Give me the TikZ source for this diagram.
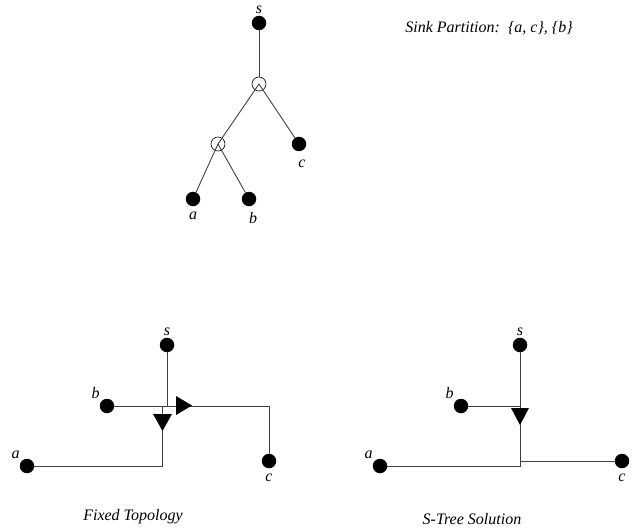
\documentclass[tikz,border=0pt]{standalone}
\usepackage{fontspec}
\setmainfont{Liberation Serif}
\begin{document}
\begin{tikzpicture}[x=1pt,y=-1pt,
    font=\fontsize{16}{18}\selectfont\itshape,
    wire/.style={draw=black!75, line width=0.9pt},
    terminal/.style={circle, fill=black, inner sep=0pt, minimum size=14.5pt},
    steiner/.style={circle, draw=black, line width=0.6pt, inner sep=0pt, minimum size=14pt},
    pin/.style={label distance=-2pt},
    pinlow/.style={label distance=2pt}]
    \useasboundingbox (0,0) rectangle (639,529);

    % Topology tree
    \node[terminal, label={[pin]above:s}] (st) at (259,23) {};
    \node[steiner] (u) at (259,84) {};
    \node[steiner] (v) at (218,144) {};
    \node[terminal, label={[pinlow,label distance=5pt,xshift=3pt]below:c}] (ct) at (299,144) {};
    \node[terminal, label={[pinlow]below:a}] (at) at (193,199) {};
    \node[terminal, label={[pinlow,xshift=4pt]below:b}] (bt) at (249,199) {};
    \draw[wire] (st) -- (u.north);
    \draw[wire] (u.center) -- (v.center);
    \draw[wire] (u.center) -- (ct);
    \draw[wire] (v.center) -- (at);
    \draw[wire] (v.center) -- (bt);
    \node (part) at (489,28) {Sink Partition:\ \ \{a, c\}, \{b\}};

    % Fixed topology
    \node[terminal, label={[pin]above:s}] (s1) at (167,345) {};
    \node[terminal, label={[pin]above left:b}] (b1) at (107,406) {};
    \node[terminal, label={[pin]above left:a}] (a1) at (27,466) {};
    \node[terminal, label={[pinlow]below:c}] (c1) at (269,461) {};
    \coordinate (j1) at (167,406);
    \coordinate (k1) at (162.5,406);
    \draw[wire] (s1) -- (j1);
    \draw[wire] (b1) -- (b1 -| c1) -- (c1);
    \draw[wire] (k1) -- (k1 |- a1) -- (a1);
    \fill (176,396) -- (192,405.5) -- (176,415) -- cycle;
    \fill (153,414) -- (172,414) -- (162.5,431) -- cycle;
    \node (cap1) at (133,517) {Fixed Topology};

    % S-Tree solution
    \node[terminal, label={[pin]above:s}] (s2) at (520,345) {};
    \node[terminal, label={[pin]above left:b}] (b2) at (461,406) {};
    \node[terminal, label={[pin]above left:a}] (a2) at (380,466) {};
    \node[terminal, label={[pinlow]below:c}] (c2) at (622,461) {};
    \coordinate (j2) at (520,466);
    \draw[wire] (s2) -- (j2) -- (a2);
    \draw[wire] (b2) -- (b2 -| s2);
    \draw[wire] (c2 -| s2) -- (c2);
    \fill (511,408) -- (529,408) -- (520,425) -- cycle;
    \node (cap2) at (472,519) {S-Tree Solution};
\end{tikzpicture}
\end{document}
